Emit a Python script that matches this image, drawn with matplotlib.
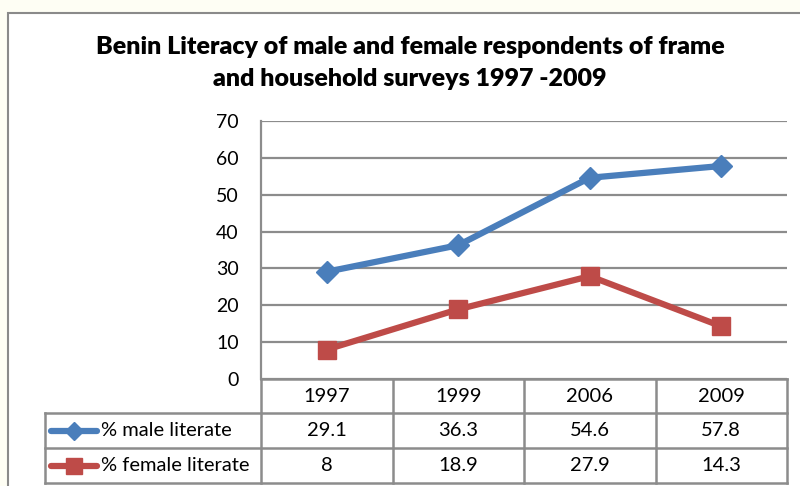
import matplotlib
matplotlib.use("Agg")
import matplotlib.pyplot as plt
from matplotlib.patches import Rectangle
from matplotlib.lines import Line2D
import numpy as np

years = ["1997", "1999", "2006", "2009"]
male = [29.1, 36.3, 54.6, 57.8]
female = [8, 18.9, 27.9, 14.3]
male_label = "% male literate"
female_label = "% female literate"
title = "Benin Literacy of male and female respondents of frame\nand household surveys 1997 -2009"
yticks = [0, 10, 20, 30, 40, 50, 60, 70]

W, H = 800, 486
BLUE = "#4A7EBB"
RED = "#BE4B48"
GRID = "#8C8C8C"
FONT = ["Lato", "DejaVu Sans"]

fig = plt.figure(figsize=(W / 100, H / 100), dpi=100)
fig.patch.set_facecolor("#FEFEF4")

bg = fig.add_axes([0, 0, 1, 1])
bg.set_xlim(0, W)
bg.set_ylim(H, 0)
bg.axis("off")
bg.add_patch(Rectangle((8, 13), W + 10, H, facecolor="white", edgecolor="#8A8A8A", lw=1.5, zorder=0))

tl = title.split("\n")
bg.text(410, 47, tl[0], ha="center", va="center", fontsize=18, fontweight="heavy", family=FONT)
bg.text(410, 79, tl[1], ha="center", va="center", fontsize=18, fontweight="heavy", family=FONT)

L, R, T, B = 261, 787, 121, 379
ax = fig.add_axes([L / W, 1 - B / H, (R - L) / W, (B - T) / H])
ax.set_facecolor("none")
x = np.arange(len(years)) + 0.5
ax.set_xlim(0, len(years))
ax.set_ylim(0, 70)
ax.set_yticks(yticks)
ax.set_yticklabels([str(v) for v in yticks], fontsize=14, family=FONT)
ax.set_xticks([])
ax.tick_params(axis="y", length=0, pad=16)
ax.grid(axis="y", color=GRID, lw=1.6)
ax.set_axisbelow(True)
for s in ["top", "right", "bottom"]:
    ax.spines[s].set_visible(False)
ax.spines["left"].set_color(GRID)
ax.spines["left"].set_linewidth(1.6)
ax.plot(x, male, color=BLUE, lw=4.5, marker="D", ms=11.5, mec=BLUE, mfc=BLUE, zorder=3, clip_on=False)
ax.plot(x, female, color=RED, lw=4.5, marker="s", ms=13, mec=RED, mfc=RED, zorder=3, clip_on=False)

rows_y = [379, 413, 448, 483]
col_w = (R - L) / len(years)
cols_x = [L + i * col_w for i in range(len(years) + 1)]
TL = 45
tk = dict(color=GRID, lw=1.8, zorder=2)
bg.plot([L, R], [rows_y[0], rows_y[0]], **tk)
for yy in rows_y[1:]:
    bg.plot([TL, R], [yy, yy], **tk)
bg.plot([TL, TL], [rows_y[1], rows_y[3]], **tk)
for xx in cols_x:
    bg.plot([xx, xx], [rows_y[0], rows_y[3]], **tk)

fs = 14.5
for i, yr in enumerate(years):
    cx = (cols_x[i] + cols_x[i + 1]) / 2
    bg.text(cx, (rows_y[0] + rows_y[1]) / 2, yr, ha="center", va="center", fontsize=fs, family=FONT)
    bg.text(cx, (rows_y[1] + rows_y[2]) / 2, f"{male[i]:g}", ha="center", va="center", fontsize=fs, family=FONT)
    bg.text(cx, (rows_y[2] + rows_y[3]) / 2, f"{female[i]:g}", ha="center", va="center", fontsize=fs, family=FONT)

for (lab, col, mk, ms), r in zip([(male_label, BLUE, "D", 9), (female_label, RED, "s", 12)], [1, 2]):
    cy = (rows_y[r] + rows_y[r + 1]) / 2
    bg.add_line(Line2D([51, 97], [cy, cy], color=col, lw=4.5, solid_capstyle="round"))
    bg.add_line(Line2D([74], [cy], marker=mk, ms=ms, color=col, mec=col))
    bg.text(101, cy, lab, ha="left", va="center", fontsize=fs, family=FONT)

fig.savefig("out.png", dpi=100, facecolor=fig.get_facecolor())
